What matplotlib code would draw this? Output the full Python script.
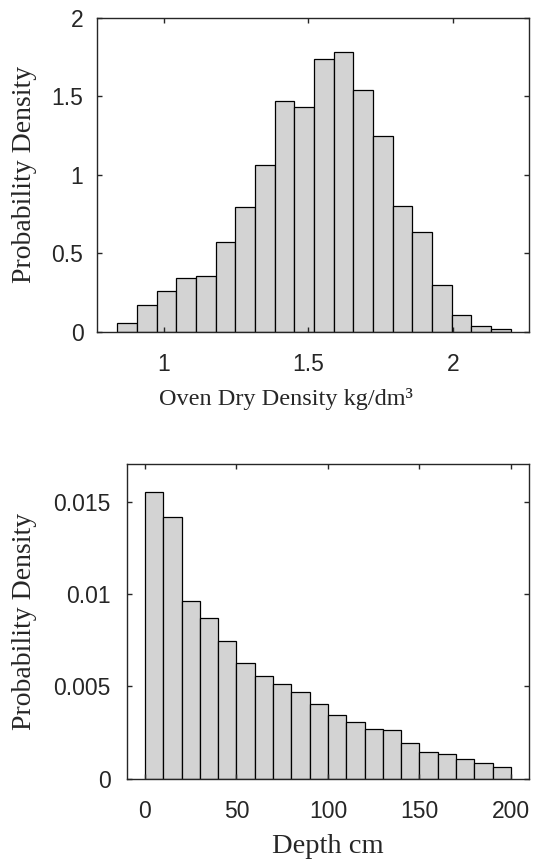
import numpy as np
import matplotlib
matplotlib.use("Agg")
import matplotlib.pyplot as plt

# --- data ---
# oven dry density histogram (20 bins)
odd_lo, odd_hi = 0.839, 2.201
odd_density = [0.057, 0.170, 0.261, 0.344, 0.357, 0.573, 0.794, 1.064, 1.471, 1.433,
               1.737, 1.779, 1.539, 1.246, 0.803, 0.633, 0.295, 0.104, 0.036, 0.015]
odd_ticks = [1, 1.5, 2]
odd_yticks = [0, 0.5, 1, 1.5, 2]
odd_yticklabels = ['0', '0.5', '1', '1.5', '2']

# depth histogram (20 bins, 0-200 cm)
depth_lo, depth_hi = 0, 200
depth_density = [0.01552, 0.01419, 0.00960, 0.00868, 0.00747, 0.00628, 0.00554, 0.00514,
                 0.00469, 0.00403, 0.00347, 0.00305, 0.00271, 0.00264, 0.00195, 0.00143,
                 0.00134, 0.00106, 0.00087, 0.00065]
depth_ticks = [0, 50, 100, 150, 200]
depth_yticks = [0, 0.005, 0.01, 0.015]
depth_yticklabels = ['0', '0.005', '0.01', '0.015']

TXT = '#262626'
FACE = '#d3d3d3'

fig = plt.figure(figsize=(5.33, 8.61), dpi=100)
ax1 = fig.add_axes([0.1826, 0.6148, 0.8105, 0.3647])
ax2 = fig.add_axes([0.2377, 0.0956, 0.7553, 0.3659])


def draw_hist(ax, lo, hi, dens):
    edges = np.linspace(lo, hi, len(dens) + 1)
    ax.bar(edges[:-1], dens, width=np.diff(edges), align='edge',
           color=FACE, edgecolor='black', linewidth=0.9)


def style(ax, xpad, ypad):
    for s in ax.spines.values():
        s.set_linewidth(1.0)
        s.set_color(TXT)
    ax.tick_params(direction='in', length=3.6, width=1.0, color=TXT,
                   top=True, right=True, labelsize=16.5, labelcolor=TXT)
    ax.tick_params(axis='x', pad=xpad)
    ax.tick_params(axis='y', pad=ypad)
    for lab in ax.get_xticklabels() + ax.get_yticklabels():
        lab.set_family('Liberation Sans')


# top: oven dry density
draw_hist(ax1, odd_lo, odd_hi, odd_density)
ax1.set_xlim(0.770, 2.265)
ax1.set_ylim(0, 2)
ax1.set_xticks(odd_ticks)
ax1.set_xticklabels(['1', '1.5', '2'])
ax1.set_yticks(odd_yticks)
ax1.set_yticklabels(odd_yticklabels)
style(ax1, 15.5, 10)
ax1.set_xlabel('Oven Dry Density kg/dm³', family='Liberation Serif', fontsize=17.5,
               color=TXT)
ax1.xaxis.set_label_coords(0.4368, -0.181)
ax1.set_ylabel('Probability Density', family='Liberation Serif', fontsize=20, color=TXT)
ax1.yaxis.set_label_coords(-0.1403, 0.5)

# bottom: depth
draw_hist(ax2, depth_lo, depth_hi, depth_density)
ax2.set_xlim(-10, 210)
ax2.set_ylim(0, 0.01706)
ax2.set_xticks(depth_ticks)
ax2.set_xticklabels([str(t) for t in depth_ticks])
ax2.set_yticks(depth_yticks)
ax2.set_yticklabels(depth_yticklabels)
style(ax2, 15.3, 11.5)
ax2.set_xlabel('Depth cm', family='Liberation Serif', fontsize=20.5, color=TXT)
ax2.xaxis.set_label_coords(0.5, -0.1756)
ax2.set_ylabel('Probability Density', family='Liberation Serif', fontsize=20, color=TXT)
ax2.yaxis.set_label_coords(-0.2235, 0.5)

fig.savefig('out.png', dpi=100)
